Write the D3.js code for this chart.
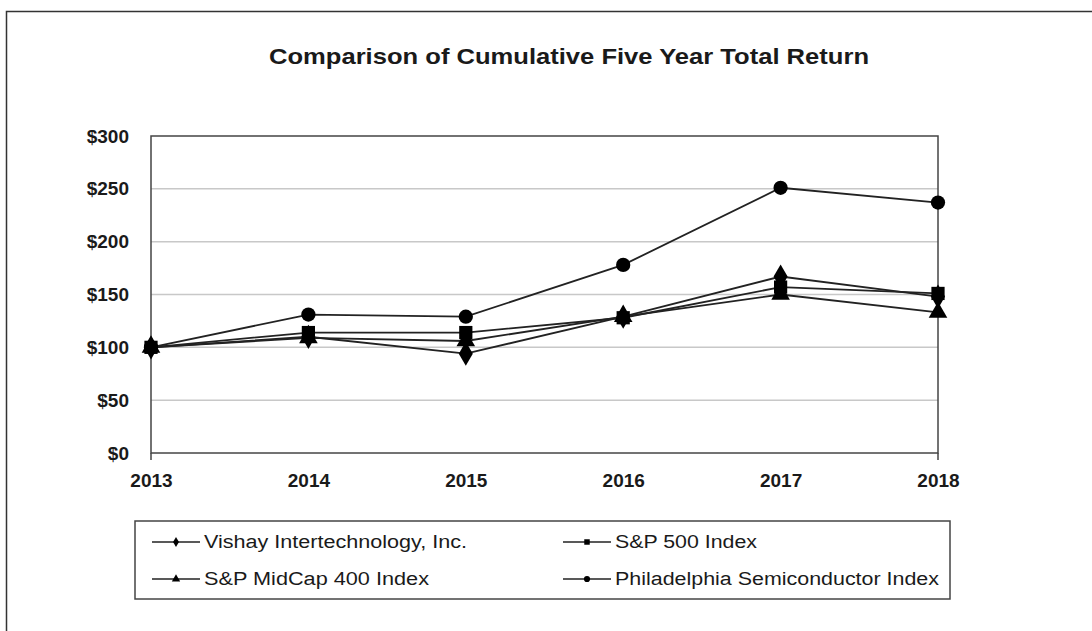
<!DOCTYPE html>
<html>
<head>
<meta charset="utf-8">
<script src="https://cdn.jsdelivr.net/npm/d3@7"></script>
<style>
  body { margin: 0; background: #fff; }
  text { font-family: "Liberation Sans", Arial, sans-serif; fill: #1a1a1a; }
</style>
</head>
<body>
<div id="chart"></div>
<script>
var years = ["2013", "2014", "2015", "2016", "2017", "2018"];
var yTicks = [0, 50, 100, 150, 200, 250, 300];
var vishay = [100, 110, 94, 129, 167, 148];
var sp500 = [100, 114, 114, 128, 157, 151];
var midcap = [100, 109, 106, 129, 150, 133];
var sox = [100, 131, 129, 178, 251, 237];

var seriesNames = ["Vishay Intertechnology, Inc.", "S&P 500 Index", "S&P MidCap 400 Index", "Philadelphia Semiconductor Index"];
var seriesValues = [vishay, sp500, midcap, sox];
var seriesShapes = [d3.symbolDiamond, d3.symbolSquare, d3.symbolTriangle, d3.symbolCircle];

var width = 1092, height = 631;
var plotLeft = 151, plotRight = 938, plotTop = 136, plotBottom = 453;

var svg = d3.select("#chart").append("svg")
  .attr("width", width)
  .attr("height", height);

// outer frame
svg.append("rect")
  .attr("x", 6.5).attr("y", 11.5)
  .attr("width", width).attr("height", height)
  .style("fill", "none").style("stroke", "#333").style("stroke-width", 1.5);

svg.append("text")
  .attr("x", 569).attr("y", 64)
  .attr("text-anchor", "middle")
  .style("font-size", "22px").style("font-weight", "bold")
  .attr("textLength", 600).attr("lengthAdjust", "spacingAndGlyphs")
  .text("Comparison of Cumulative Five Year Total Return");

var x = d3.scalePoint().domain(years).range([plotLeft, plotRight]);
var y = d3.scaleLinear().domain([0, 300]).range([plotBottom, plotTop]);

// gridlines
svg.selectAll(".grid").data(yTicks.slice(1, -1)).enter().append("line")
  .attr("x1", plotLeft).attr("x2", plotRight)
  .attr("y1", function(d) { return y(d); })
  .attr("y2", function(d) { return y(d); })
  .style("stroke", "#c8c8c8").style("stroke-width", 1.5);

// plot box
svg.append("rect")
  .attr("x", plotLeft).attr("y", plotTop)
  .attr("width", plotRight - plotLeft).attr("height", plotBottom - plotTop)
  .style("fill", "none").style("stroke", "#444").style("stroke-width", 1.5);

// y axis labels
var yAxis = d3.axisLeft(y).tickValues(yTicks).tickSize(0).tickPadding(22)
  .tickFormat(function(d) { return "$" + d; });
var gy = svg.append("g").attr("transform", "translate(" + plotLeft + ",0)").call(yAxis);
gy.select(".domain").remove();
gy.selectAll("text")
  .style("font-size", "19px").style("font-weight", "bold")
  .style("font-family", "'Liberation Sans', Arial, sans-serif")
  .attr("fill", "#1a1a1a");

// x axis labels
var xAxis = d3.axisBottom(x).tickSize(0).tickPadding(21);
var gx = svg.append("g").attr("transform", "translate(0," + plotBottom + ")").call(xAxis);
gx.select(".domain").remove();
gx.selectAll("text")
  .style("font-size", "19px").style("font-weight", "bold")
  .style("font-family", "'Liberation Sans', Arial, sans-serif")
  .attr("fill", "#1a1a1a");

// end ticks
svg.selectAll(".endtick").data([years[0], years[years.length - 1]]).enter().append("line")
  .attr("x1", function(d) { return x(d); }).attr("x2", function(d) { return x(d); })
  .attr("y1", plotBottom).attr("y2", plotBottom + 7)
  .style("stroke", "#444").style("stroke-width", 1.5);

var line = d3.line()
  .x(function(d, i) { return x(years[i]); })
  .y(function(d) { return y(d); });

var symbolSizes = [170, 175, 150, 160];
var drawOrder = [3, 2, 0, 1];

for (var s = 0; s < seriesValues.length; s++) {
  svg.append("path")
    .attr("d", line(seriesValues[s]))
    .style("fill", "none").style("stroke", "#222").style("stroke-width", 1.8);
}
drawOrder.forEach(function(s) {
  var sym = d3.symbol().type(seriesShapes[s]).size(symbolSizes[s]);
  svg.selectAll(".m" + s).data(seriesValues[s]).enter().append("path")
    .attr("d", sym)
    .attr("transform", function(d, i) { return "translate(" + x(years[i]) + "," + y(d) + ")"; })
    .style("fill", "#000");
});

// legend
svg.append("rect")
  .attr("x", 135).attr("y", 521)
  .attr("width", 815).attr("height", 78)
  .style("fill", "none").style("stroke", "#444").style("stroke-width", 1.5);

var legendPos = [[152, 542], [563, 542], [152, 579], [563, 579]];
var legendWidths = [263, 142, 225, 324];
for (var k = 0; k < seriesNames.length; k++) {
  var lx = legendPos[k][0], ly = legendPos[k][1];
  svg.append("line")
    .attr("x1", lx).attr("x2", lx + 48)
    .attr("y1", ly).attr("y2", ly)
    .style("stroke", "#222").style("stroke-width", 1.5);
  svg.append("path")
    .attr("d", d3.symbol().type(seriesShapes[k]).size(30))
    .attr("transform", "translate(" + (lx + 24) + "," + ly + ")")
    .style("fill", "#000");
  svg.append("text")
    .attr("x", lx + 52).attr("y", ly + 6)
    .style("font-size", "18px")
    .attr("textLength", legendWidths[k]).attr("lengthAdjust", "spacingAndGlyphs")
    .text(seriesNames[k]);
}
</script>
</body>
</html>
